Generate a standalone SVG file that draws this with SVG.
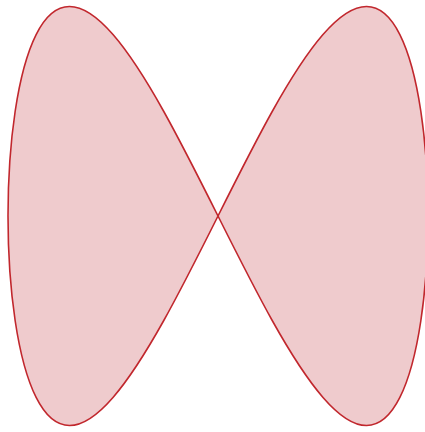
<svg xmlns="http://www.w3.org/2000/svg" width="425" height="432" viewBox="0 0 425 432">
<style>
.curve{fill:#efcbcd;stroke:#c1272d;stroke-width:1.6;stroke-linejoin:round}
</style>
<rect width="425" height="432" fill="#ffffff"/>
<g id="bowtie">
<path class="curve" d="M218,216 C236.33,179.44 254.65,142.92 272.35,111.25 C290.05,79.58 307.13,52.85 323,34.57 C338.87,16.29 353.53,6.5 366.49,6.5 C379.45,6.5 390.71,16.29 399.87,34.57 C409.03,52.85 416.1,79.58 420.84,111.25 C425.58,142.92 428,179.44 428,216 C428,252.57 425.58,289.08 420.84,320.75 C416.1,352.42 409.03,379.15 399.87,397.43 C390.71,415.71 379.45,425.5 366.49,425.5 C353.53,425.5 338.87,415.71 323,397.43 C307.13,379.15 290.05,352.42 272.35,320.75 C254.65,289.08 236.33,252.57 218,216 C199.67,179.44 181.35,142.92 163.65,111.25 C145.95,79.58 128.87,52.85 113,34.57 C97.13,16.29 82.47,6.5 69.51,6.5 C56.55,6.5 45.29,16.29 36.13,34.57 C26.97,52.85 19.9,79.58 15.16,111.25 C10.42,142.92 8,179.44 8,216 C8,252.57 10.42,289.08 15.16,320.75 C19.9,352.42 26.97,379.15 36.13,397.43 C45.29,415.71 56.55,425.5 69.51,425.5 C82.47,425.5 97.13,415.71 113,397.43 C128.87,379.15 145.95,352.42 163.65,320.75 C181.35,289.08 199.67,252.57 218,216 Z"/>
</g>
</svg>
